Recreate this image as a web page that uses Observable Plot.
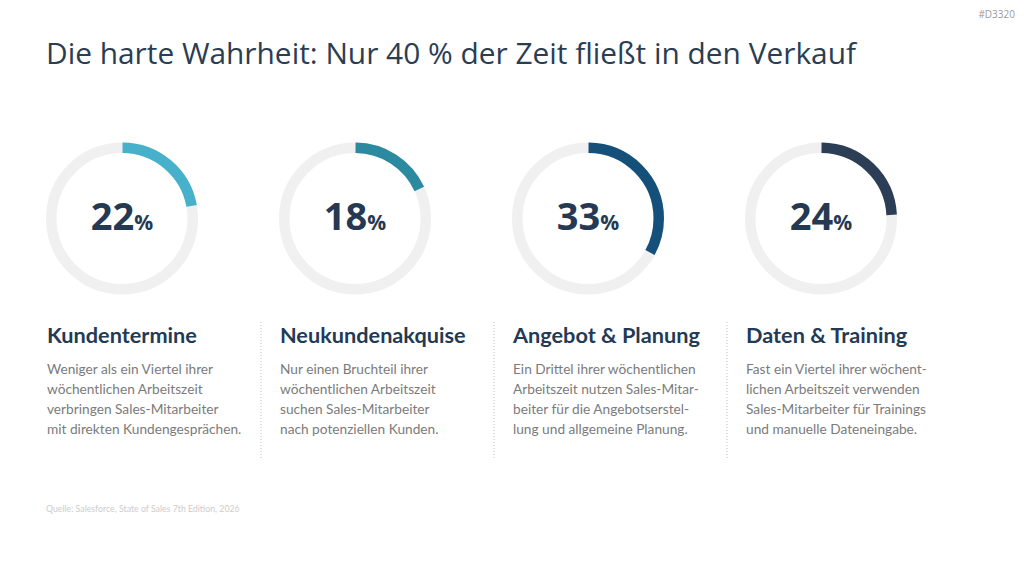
<!DOCTYPE html>
<html>
<head>
<meta charset="utf-8">
<script src="https://cdn.jsdelivr.net/npm/d3@7"></script>
<script src="https://cdn.jsdelivr.net/npm/@observablehq/plot@0.6"></script>
<style>
  html, body { margin: 0; background: #ffffff; }
  #page { position: relative; width: 1024px; height: 576px; overflow: hidden; font-family: "Open Sans", sans-serif; }
  #tag { position: absolute; right: 9px; top: 9px; font-size: 10px; line-height: 10px; color: #9a9a9a; }
  h1 { position: absolute; left: 46px; top: 38px; margin: 0; font-weight: 400; font-size: 29.85px; line-height: 30px; color: #2b3d52; white-space: nowrap; }
  #chart { position: absolute; left: 0; top: 100px; }
  #source { position: absolute; left: 46px; top: 504px; font-family: Lato, sans-serif; font-size: 8.75px; line-height: 9px; color: #cccccc; }
</style>
</head>
<body>
<div id="page">
  <div id="tag">#D3320</div>
  <h1>Die harte Wahrheit: Nur 40 % der Zeit fließt in den Verkauf</h1>
  <div id="chart"></div>
  <div id="source">Quelle: Salesforce, State of Sales 7th Edition, 2026</div>
</div>
<script>
// Share of weekly working time per activity (percent)
const categories = ["Kundentermine", "Neukundenakquise", "Angebot & Planung", "Daten & Training"];
const shares = [22, 18, 33, 24];
const colors = ["#47b0cb", "#2b8aa0", "#14507a", "#2b3e55"];
const descriptions = [
  "Weniger als ein Viertel ihrer\nwöchentlichen Arbeitszeit\nverbringen Sales-Mitarbeiter\nmit direkten Kundengesprächen.",
  "Nur einen Bruchteil ihrer\nwöchentlichen Arbeitszeit\nsuchen Sales-Mitarbeiter\nnach potenziellen Kunden.",
  "Ein Drittel ihrer wöchentlichen\nArbeitszeit nutzen Sales-Mitar-\nbeiter für die Angebotserstel-\nlung und allgemeine Planung.",
  "Fast ein Viertel ihrer wöchent-\nlichen Arbeitszeit verwenden\nSales-Mitarbeiter für Trainings\nund manuelle Dateneingabe."
];

const items = categories.map((name, i) => ({
  name, share: shares[i], color: colors[i], text: descriptions[i]
}));

// Ring geometry
const ringR = 70.75;
const ringW = 10.5;
const circ = 2 * Math.PI * ringR;
const ringY = 118;

// One arc per activity: a dashed circle whose dash covers share% of the ring,
// starting at 12 o'clock and running clockwise.
const arcs = items.map(d => Plot.dot([d], {
  x: "name",
  frameAnchor: "top",
  dy: ringY,
  r: ringR,
  fill: "none",
  stroke: d.color,
  strokeWidth: ringW,
  strokeDasharray: `${(d.share / 100) * circ} ${(1 - d.share / 100) * circ}`,
  strokeDashoffset: circ / 4
}));

const chart = Plot.plot({
  width: 1024,
  height: 400,
  margin: 0,
  x: { type: "band", domain: categories, range: [4.5, 936.5], padding: 0, axis: null },
  style: { fontFamily: "Lato, sans-serif", background: "transparent" },
  marks: [
    // background ring
    Plot.dot(items, {
      x: "name", frameAnchor: "top", dy: ringY, r: ringR,
      fill: "none", stroke: "#f0f0f0", strokeWidth: ringW
    }),
    ...arcs,
    // share value in the middle of each ring
    Plot.text(items, {
      x: "name", frameAnchor: "top", dy: 129.5, lineAnchor: "bottom",
      text: d => String(d.share), textAnchor: "middle",
      fontFamily: "Open Sans, sans-serif",
      fontSize: 38, fontWeight: 700, fill: "#253a52"
    }),
    // column headings
    Plot.text(items, {
      x: "name", frameAnchor: "top", dy: 242, dx: -75, lineAnchor: "bottom",
      text: "name", textAnchor: "start",
      fontSize: 21.7, fontWeight: 700, fill: "#243a54"
    }),
    // descriptions
    Plot.text(items, {
      x: "name", frameAnchor: "top", dy: 259, dx: -75, lineAnchor: "top",
      text: "text", textAnchor: "start", lineHeight: 20 / 13.7,
      fontSize: 13.7, fill: "#7b7b7b"
    }),
    // dotted separators between columns
    Plot.ruleX(categories.slice(1), {
      x: d => d, dx: -94, insetTop: 222, insetBottom: 42,
      stroke: "#bdbdbd", strokeWidth: 1, strokeDasharray: "1,2"
    })
  ]
});

// append the percent sign in a smaller size after each value
const shareLayer = chart.querySelectorAll('g[aria-label="text"]')[0];
shareLayer.querySelectorAll("text").forEach(t => {
  const span = document.createElementNS("http://www.w3.org/2000/svg", "tspan");
  span.setAttribute("font-size", "21");
  span.textContent = "%";
  t.appendChild(span);
});

document.getElementById("chart").appendChild(chart);
</script>
</body>
</html>
